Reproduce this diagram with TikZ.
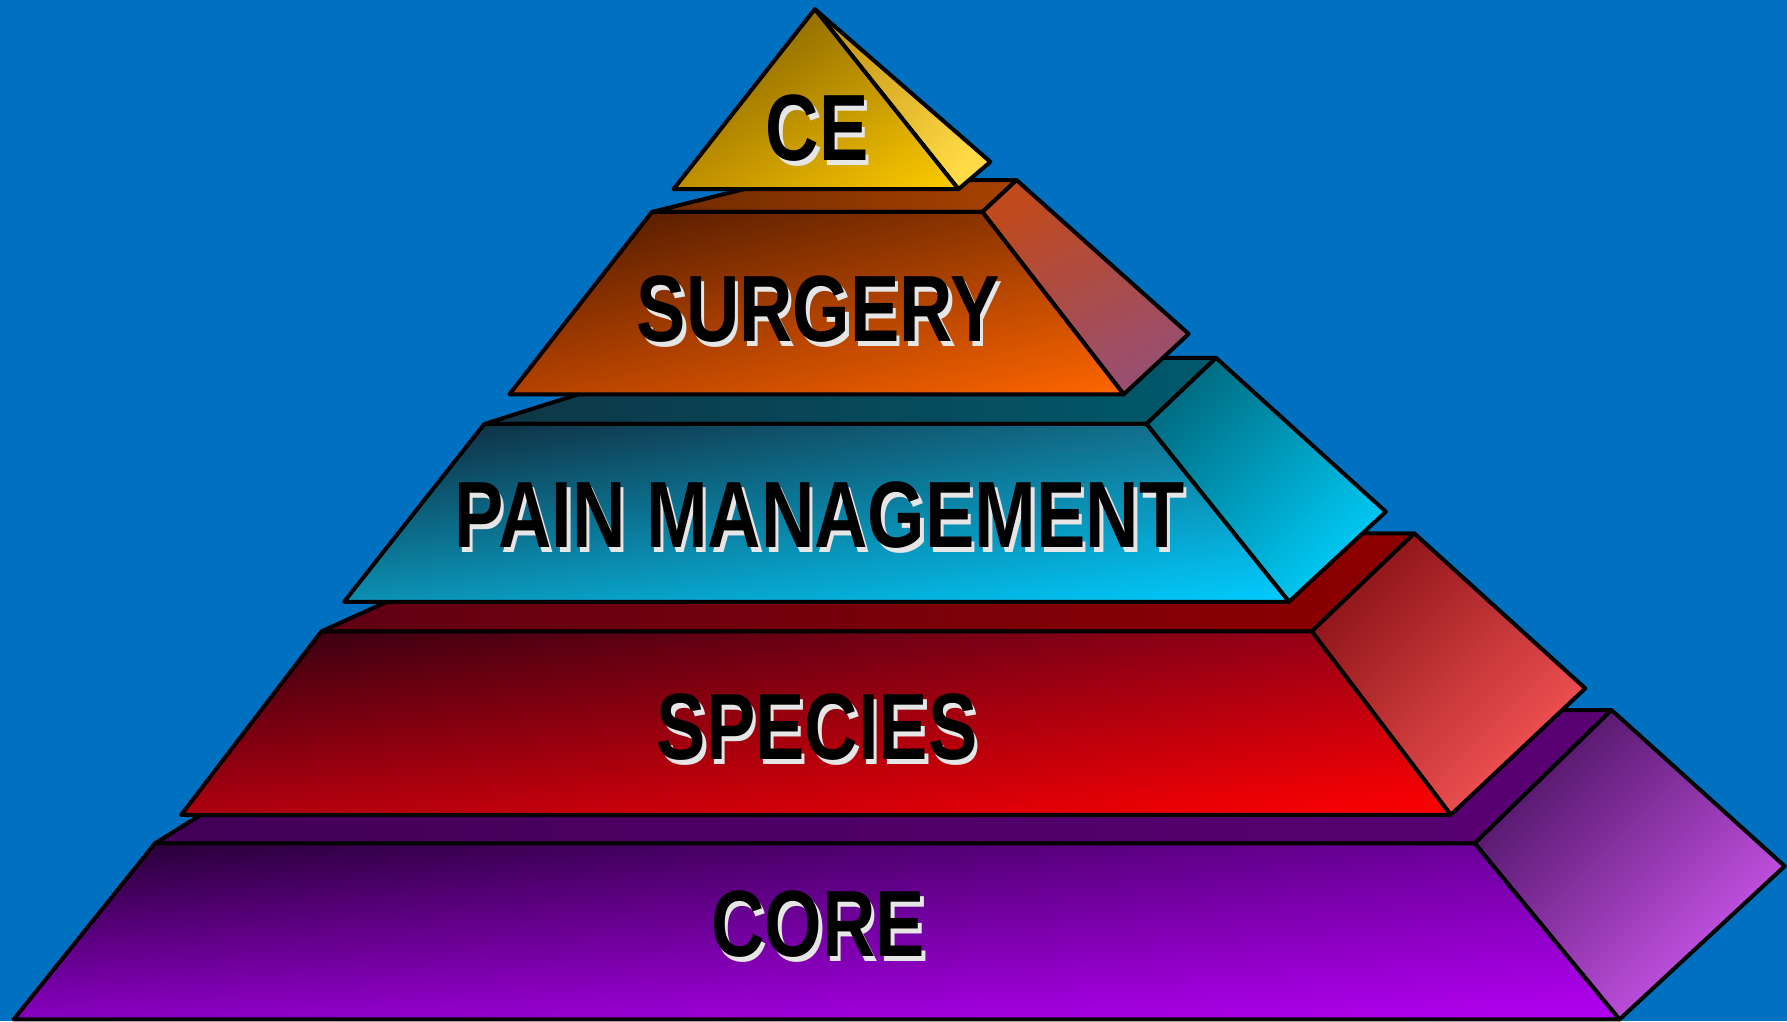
\documentclass[tikz,border=0pt]{standalone}
\usepackage{fontspec}
\usetikzlibrary{shadings}
\newfontfamily\lblfont{Liberation Sans}
\definecolor{bg}{HTML}{0070C0}
\definecolor{shadowgray}{HTML}{E6E6E6}
% CORE
\definecolor{coreUL}{HTML}{22002E}\definecolor{coreUR}{HTML}{7200A4}
\definecolor{coreLL}{HTML}{8800C0}\definecolor{coreLR}{HTML}{B400F2}
\definecolor{coreTA}{HTML}{420056}\definecolor{coreTB}{HTML}{5A0074}
\definecolor{coreSA}{HTML}{4E1464}\definecolor{coreSB}{HTML}{D058F0}
% SPECIES
\definecolor{spUL}{HTML}{300010}\definecolor{spUR}{HTML}{A00018}
\definecolor{spLL}{HTML}{AE0010}\definecolor{spLR}{HTML}{FF0000}
\definecolor{spTA}{HTML}{600014}\definecolor{spTB}{HTML}{8E0000}
\definecolor{spSA}{HTML}{8E1418}\definecolor{spSB}{HTML}{F85656}
% PAIN
\definecolor{pmUL}{HTML}{0E2638}\definecolor{pmUR}{HTML}{137A98}
\definecolor{pmLL}{HTML}{0C90B2}\definecolor{pmLR}{HTML}{00CCFF}
\definecolor{pmTA}{HTML}{0E3646}\definecolor{pmTB}{HTML}{005A6C}
\definecolor{pmSA}{HTML}{006E84}\definecolor{pmSB}{HTML}{00CCF8}
% SURGERY
\definecolor{suUL}{HTML}{481600}\definecolor{suUR}{HTML}{9C3C00}
\definecolor{suLL}{HTML}{B44200}\definecolor{suLR}{HTML}{FF6600}
\definecolor{suTA}{HTML}{6E2A00}\definecolor{suTB}{HTML}{A84200}
\definecolor{suSA}{HTML}{C04A1C}\definecolor{suSB}{HTML}{984F72}
% CE
\definecolor{ceUL}{HTML}{705000}\definecolor{ceUR}{HTML}{B89000}
\definecolor{ceLL}{HTML}{C09000}\definecolor{ceLR}{HTML}{FFCC00}
\definecolor{ceSA}{HTML}{C89818}\definecolor{ceSB}{HTML}{FFDA44}
\begin{document}
\begin{tikzpicture}[x=0.01cm,y=-0.01cm,line join=round,
  face/.style={draw=black,line width=1pt},
  frontface/.style n args={4}{face,upper left=#1,upper right=#2,lower left=#3,lower right=#4},
  sideface/.style n args={3}{face,top color=#1,bottom color=#2,shading angle=#3},
  topface/.style 2 args={face,left color=#1,right color=#2},
  lbl/.style={font=\lblfont\bfseries\fontsize{23.5}{28}\selectfont,inner sep=0pt,text=black},
  lblsh/.style={lbl,text=shadowgray,xshift=0.03cm,yshift=-0.045cm}]
\fill[bg] (0,0) rectangle (1568,896);
\useasboundingbox (0,0) rectangle (1568,896);
% ---- CORE
\path[topface={coreTA}{coreTB}] (136,740) -- (1294,740) -- (1414,623) -- (324,623) -- cycle;
\path[sideface={coreSA}{coreSB}{45}] (1294,740) -- (1414,623) -- (1566,760) -- (1421,894.5) -- cycle;
\path[frontface={coreUL}{coreUR}{coreLL}{coreLR}] (136,740) -- (1294,740) -- (1421,894.5) -- (12,894.5) -- cycle;
% ---- SPECIES
\path[topface={spTA}{spTB}] (282,554) -- (1151,554) -- (1241,468) -- (472,468) -- cycle;
\path[sideface={spSA}{spSB}{45}] (1151,554) -- (1241,468) -- (1391,604) -- (1273,715) -- cycle;
\path[frontface={spUL}{spUR}{spLL}{spLR}] (282,554) -- (1151,554) -- (1273,715) -- (159,715) -- cycle;
% ---- PAIN MANAGEMENT
\path[topface={pmTA}{pmTB}] (425,372) -- (1006,372) -- (1067,314) -- (609,314) -- cycle;
\path[sideface={pmSA}{pmSB}{45}] (1006,372) -- (1067,314) -- (1216,449) -- (1131,528) -- cycle;
\path[frontface={pmUL}{pmUR}{pmLL}{pmLR}] (425,372) -- (1006,372) -- (1131,528) -- (302,528) -- cycle;
% ---- SURGERY
\path[topface={suTA}{suTB}] (572,186) -- (862,186) -- (892,158) -- (685,158) -- cycle;
\path[sideface={suSA}{suSB}{25}] (862,186) -- (892,158) -- (1043,293) -- (986,346) -- cycle;
\path[frontface={suUL}{suUR}{suLL}{suLR}] (572,186) -- (862,186) -- (986,346) -- (447,346) -- cycle;
% ---- CE
\path[sideface={ceSA}{ceSB}{45}] (715,8) -- (869,142) -- (841,166) -- cycle;
\path[frontface={ceUL}{ceUR}{ceLL}{ceLR}] (715,8) -- (841,166) -- (591,166) -- cycle;
% ---- labels
\node[lblsh] (coreS) at (718,811) {\scalebox{0.785}[1]{CORE}};
\node[lbl] (core) at (718,811) {\scalebox{0.785}[1]{CORE}};
\node[lblsh] (speciesS) at (717,638) {\scalebox{0.785}[1]{SPECIES}};
\node[lbl] (species) at (717,638) {\scalebox{0.785}[1]{SPECIES}};
\node[lblsh] (painS) at (719,452) {\scalebox{0.785}[1]{PAIN MANAGEMENT}};
\node[lbl] (pain) at (719,452) {\scalebox{0.785}[1]{PAIN MANAGEMENT}};
\node[lblsh] (surgeryS) at (718,271) {\scalebox{0.785}[1]{SURGERY}};
\node[lbl] (surgery) at (718,271) {\scalebox{0.785}[1]{SURGERY}};
\node[lblsh] (ceS) at (717,112) {\scalebox{0.785}[1]{CE}};
\node[lbl] (ce) at (717,112) {\scalebox{0.785}[1]{CE}};
\end{tikzpicture}
\end{document}
